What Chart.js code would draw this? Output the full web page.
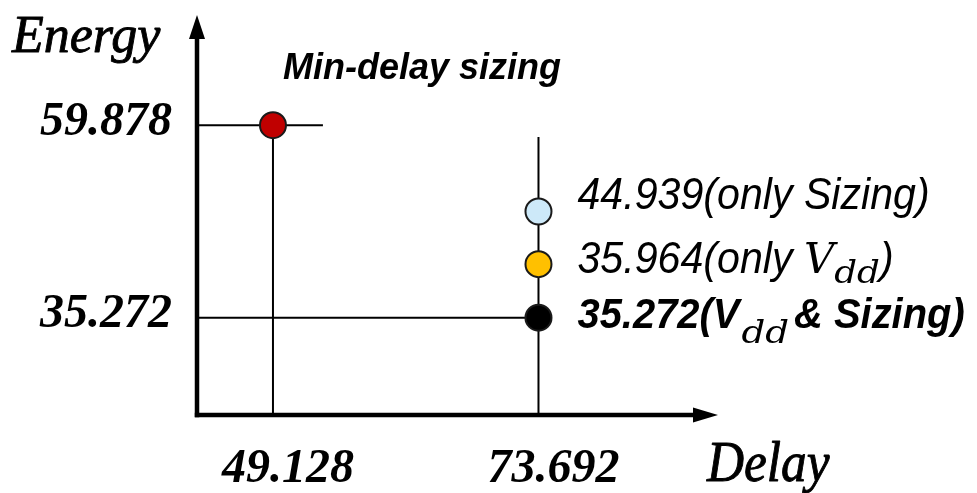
<!DOCTYPE html>
<html><head><meta charset="utf-8">
<script src="https://cdn.jsdelivr.net/npm/chart.js@4.4.1/dist/chart.umd.min.js"></script>
<style>html,body{margin:0;padding:0;background:#fff;} #wrap{width:977px;height:493px;position:relative;}</style>
</head><body><div id="wrap"><canvas id="c"></canvas></div>
<script>
// ---- data ----
const delayTicks = [49.128, 73.692];
const energyTicks = [35.272, 59.878];
const pointNames = ['Min-delay sizing', 'only Sizing', 'only Vdd', 'Vdd & Sizing'];
const pointDelay = [49.128, 73.692, 73.692, 73.692];
// energies as placed in the (schematic) picture
const pointEnergy = [59.878, 48.85, 42.12, 35.272];
const labelValues = ['59.878', '44.939', '35.964', '35.272'];
const pointColors = ['#C00000', '#CDE9F9', '#FFC000', '#000000'];
const xRange = [42.10, 90.30];
const yRange = [22.84, 73.96];
const topGuideEnd = 53.75;     // delay where the 59.878 guide stops
const rightGuideTop = 58.36;   // energy where the 73.692 guide stops

const serifBI = {family: 'Liberation Serif', size: 48, style: 'italic', weight: 'bold'};

const decor = {
  id: 'decor',
  afterDraw(chart) {
    const {ctx, chartArea: a, scales: {x, y}} = chart;
    ctx.save();
    ctx.fillStyle = '#000'; ctx.strokeStyle = '#000';
    // axes with arrows
    ctx.lineWidth = 4.5; ctx.lineCap = 'butt';
    ctx.beginPath(); ctx.moveTo(a.left, a.bottom + 2.2); ctx.lineTo(a.left, a.top + 20); ctx.stroke();
    ctx.beginPath(); ctx.moveTo(a.left - 2.2, a.bottom); ctx.lineTo(a.right - 20, a.bottom); ctx.stroke();
    ctx.beginPath(); ctx.moveTo(a.left, a.top); ctx.lineTo(a.left - 8, a.top + 24); ctx.lineTo(a.left + 8, a.top + 24); ctx.closePath(); ctx.fill();
    ctx.beginPath(); ctx.moveTo(a.right, a.bottom); ctx.lineTo(a.right - 25, a.bottom - 7.5); ctx.lineTo(a.right - 25, a.bottom + 7.5); ctx.closePath(); ctx.fill();
    // axis titles
    ctx.textBaseline = 'alphabetic'; ctx.textAlign = 'left';
    ctx.lineWidth = 0.9; ctx.lineJoin = 'round';
    ctx.font = 'italic 52px "Liberation Serif"';
    ctx.fillText('Energy', 12, 52); ctx.strokeText('Energy', 12, 52);
    ctx.save(); ctx.translate(707, 481); ctx.scale(0.95, 1.05);
    ctx.font = 'italic 54px "Liberation Serif"';
    ctx.fillText('Delay', 0, 0); ctx.strokeText('Delay', 0, 0);
    ctx.restore();
    // annotations
    const px = pointDelay.map(v => x.getPixelForValue(v));
    const py = pointEnergy.map(v => y.getPixelForValue(v));
    ctx.font = 'italic bold 36px "Liberation Sans"';
    ctx.fillText(pointNames[0], px[0] + 10, py[0] - 46);
    const runs = (x0, y0, list) => {
      let cx = x0;
      for (const r of list) {
        ctx.font = r.font;
        const sx = r.sx || 1;
        ctx.save(); ctx.translate(cx, y0 + (r.dy || 0)); ctx.scale(sx, 1);
        ctx.fillText(r.t, 0, 0); ctx.restore();
        cx += ctx.measureText(r.t).width * sx + (r.gap || 0);
      }
    };
    const sans = 'italic 44px "Liberation Sans"';
    const sansB = 'italic bold 42px "Liberation Sans"';
    const sub = 'italic 31px "DejaVu Serif"';
    runs(px[1] + 39, py[1] - 2, [{t: labelValues[1] + '(only Sizing)', font: sans, sx: 0.935}]);
    runs(px[2] + 39, py[2] + 9, [
      {t: labelValues[2] + '(only ', font: sans, sx: 0.935},
      {t: 'V', font: 'italic 42px "DejaVu Serif"'},
      {t: 'dd', font: sub, dy: 10, sx: 1.15},
      {t: ')', font: sans, sx: 0.935}
    ]);
    runs(px[3] + 39, py[3] + 10, [
      {t: labelValues[3] + '(V', font: sansB, sx: 0.95, gap: 2},
      {t: 'dd', font: sub, dy: 15, sx: 1.2, gap: 5},
      {t: '& Sizing)', font: sansB, sx: 0.95}
    ]);
    ctx.restore();
  }
};

const guideStyle = {type: 'line', borderColor: '#000', borderWidth: 2, pointRadius: 0, fill: false, clip: false, tension: 0};

new Chart(document.getElementById('c'), {
  type: 'scatter',
  data: {
    datasets: [
      {
        type: 'scatter',
        data: pointDelay.map((d, i) => ({x: d, y: pointEnergy[i]})),
        backgroundColor: pointColors,
        borderColor: '#1a1a1a',
        borderWidth: 2,
        pointRadius: 13,
        clip: false
      },
      Object.assign({data: [{x: xRange[0], y: energyTicks[1]}, {x: topGuideEnd, y: energyTicks[1]}]}, guideStyle),
      Object.assign({data: [{x: delayTicks[0], y: yRange[0]}, {x: delayTicks[0], y: energyTicks[1]}]}, guideStyle),
      Object.assign({data: [{x: delayTicks[1], y: yRange[0]}, {x: delayTicks[1], y: rightGuideTop}]}, guideStyle),
      Object.assign({data: [{x: xRange[0], y: energyTicks[0]}, {x: delayTicks[1], y: energyTicks[0]}]}, guideStyle)
    ]
  },
  options: {
    responsive: true, maintainAspectRatio: false, animation: false,
    layout: {padding: {top: 12, right: 259, left: 0, bottom: 0}},
    plugins: {legend: {display: false}, tooltip: {enabled: false}},
    scales: {
      x: {
        type: 'linear', min: xRange[0], max: xRange[1],
        afterBuildTicks: s => { s.ticks = delayTicks.map(v => ({value: v})); },
        afterFit: s => { s.height = 78; s.paddingLeft = 0; s.paddingRight = 0; },
        ticks: {callback: v => Number(v).toFixed(3), font: serifBI, color: '#000', padding: 26, labelOffset: 15, autoSkip: false, maxRotation: 0},
        grid: {display: false, drawTicks: false}, border: {display: false}
      },
      y: {
        type: 'linear', min: yRange[0], max: yRange[1],
        afterBuildTicks: s => { s.ticks = energyTicks.map(v => ({value: v})); },
        afterFit: s => { s.width = 197; s.paddingTop = 0; s.paddingBottom = 0; },
        ticks: {callback: v => Number(v).toFixed(3), font: serifBI, color: '#000', padding: 25, labelOffset: -3, autoSkip: false},
        grid: {display: false, drawTicks: false}, border: {display: false}
      }
    }
  },
  plugins: [decor]
});
</script>
</body></html>
